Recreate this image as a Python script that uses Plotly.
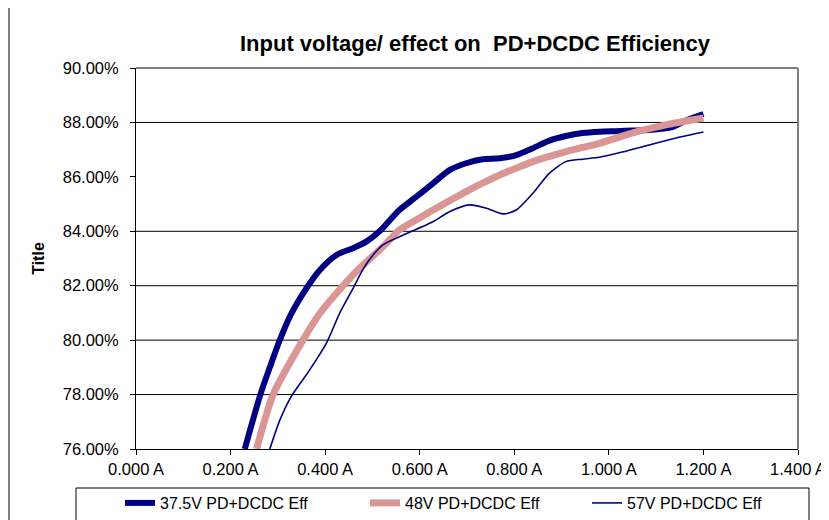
import plotly.graph_objects as go

# ---- data ----
current_375 = [0.230, 0.263, 0.283, 0.304, 0.329, 0.364, 0.389, 0.424, 0.459, 0.487,
               0.515, 0.557, 0.593, 0.628, 0.663, 0.698, 0.733, 0.769, 0.804, 0.839,
               0.874, 0.909, 0.944, 0.980, 1.016, 1.050, 1.085, 1.134, 1.163, 1.200]
eff_375 = [76.00, 78.00, 79.00, 80.00, 80.99, 82.00, 82.58, 83.13, 83.38, 83.62,
           84.00, 84.78, 85.27, 85.76, 86.25, 86.50, 86.65, 86.68, 86.80, 87.05,
           87.33, 87.50, 87.61, 87.66, 87.68, 87.70, 87.72, 87.83, 88.07, 88.31]

current_48 = [0.255, 0.290, 0.353, 0.389, 0.438, 0.469, 0.522, 0.557, 0.593, 0.628,
              0.663, 0.698, 0.733, 0.769, 0.804, 0.839, 0.874, 0.909, 0.944, 0.980,
              1.049, 1.121, 1.200]
eff_48 = [76.00, 78.00, 80.00, 80.99, 82.00, 82.58, 83.43, 84.05, 84.42, 84.78,
          85.12, 85.46, 85.77, 86.07, 86.32, 86.56, 86.75, 86.93, 87.08, 87.23,
          87.61, 87.91, 88.16]

current_57 = [0.283, 0.304, 0.329, 0.367, 0.403, 0.431, 0.459, 0.480, 0.500, 0.522,
              0.557, 0.628, 0.663, 0.705, 0.741, 0.776, 0.804, 0.839, 0.874, 0.909,
              0.944, 0.980, 1.028, 1.085, 1.142, 1.200]
eff_57 = [76.00, 77.05, 77.95, 78.90, 79.90, 81.00, 81.90, 82.60, 83.10, 83.50,
          83.80, 84.35, 84.72, 84.97, 84.85, 84.64, 84.78, 85.39, 86.13, 86.56,
          86.65, 86.72, 86.91, 87.17, 87.43, 87.65]

series_names = ["37.5V PD+DCDC Eff", "48V PD+DCDC Eff", "57V PD+DCDC Eff"]
x_ticks = [0.0, 0.2, 0.4, 0.6, 0.8, 1.0, 1.2, 1.4]
y_ticks = [76, 78, 80, 82, 84, 86, 88, 90]
grid_values = [78, 80, 82, 84, 88]
x_tick_text = [f"{v:.3f} A" for v in x_ticks]
y_tick_text = [f"{v:.2f}%" for v in y_ticks]

NAVY = "#000080"
PINK = "#DA9694"
FONT = "Liberation Sans, Arial, sans-serif"

# page geometry (the page body adds an 8px offset)
OFF = 8
W, H = 829 - OFF, 520 - OFF
PL, PR, PT, PB = 136, 798, 68, 449          # plot area in page pixels
L, T = PL - OFF, PT - OFF
R, B = W - (PR - OFF), H - (PB - OFF)
pw, ph = W - L - R, H - T - B


def px(xp):
    return (xp - OFF - L) / pw


def py(yp):
    return (H - B - (yp - OFF)) / ph


fig = go.Figure()
legend_ids = ["legend", "legend2", "legend3"]
fig.add_trace(go.Scatter(x=current_375, y=eff_375, mode="lines", name=series_names[0],
                         legend=legend_ids[0],
                         line=dict(color=NAVY, width=6, shape="spline", smoothing=0.7)))
fig.add_trace(go.Scatter(x=current_48, y=eff_48, mode="lines", name=series_names[1],
                         legend=legend_ids[1],
                         line=dict(color=PINK, width=7, shape="spline", smoothing=0.7)))
fig.add_trace(go.Scatter(x=current_57, y=eff_57, mode="lines", name=series_names[2],
                         legend=legend_ids[2],
                         line=dict(color=NAVY, width=1.6, shape="spline", smoothing=0.7)))

shapes = []
for g in grid_values:
    shapes.append(dict(type="line", xref="paper", yref="y", x0=0, x1=1, y0=g, y1=g,
                       line=dict(color="black", width=1), layer="below"))
# gray top and right border of plot area
shapes.append(dict(type="line", xref="paper", yref="paper", x0=0, x1=1, y0=1, y1=1,
                   line=dict(color="#808080", width=2)))
shapes.append(dict(type="line", xref="paper", yref="paper", x0=1, x1=1, y0=0, y1=1,
                   line=dict(color="#808080", width=2)))
# outer chart border
shapes.append(dict(type="rect", xref="paper", yref="paper", x0=px(9), x1=px(845),
                   y0=py(545), y1=py(6), line=dict(color="black", width=1)))
# legend box
shapes.append(dict(type="rect", xref="paper", yref="paper", x0=px(76), x1=px(809),
                   y0=py(545), y1=py(488), line=dict(color="black", width=1)))

legend_origins = [120, 365, 587]
legend_common = dict(orientation="h", xanchor="left", yanchor="top",
                     bgcolor="rgba(0,0,0,0)", borderwidth=0,
                     font=dict(size=16, family=FONT, color="black"))

fig.update_layout(
    width=W, height=H,
    margin=dict(l=L, r=R, t=T, b=B, autoexpand=False),
    paper_bgcolor="white", plot_bgcolor="white",
    font=dict(family=FONT, size=16, color="black"),
    title=dict(text="<b>Input voltage/ effect on\u00a0 PD+DCDC Efficiency</b>",
               x=px(475), xanchor="center", xref="paper",
               y=1 - (43 - OFF) / H, yanchor="middle", yref="container",
               font=dict(family=FONT, size=22, color="black")),
    xaxis=dict(range=[0, 1.4], tickvals=x_ticks, ticktext=x_tick_text,
               showgrid=False, zeroline=False, showline=True, linecolor="black",
               linewidth=1, ticks="outside", ticklen=5, tickcolor="black",
               tickfont=dict(size=16.5)),
    yaxis=dict(range=[76, 90], tickvals=y_ticks, ticktext=y_tick_text,
               showgrid=False, zeroline=False, showline=True, linecolor="black",
               linewidth=1, ticks="outside", ticklen=5, tickcolor="black",
               tickfont=dict(size=16.5), ticklabelstandoff=8,
               title=dict(text="<b>Title</b>", font=dict(size=16), standoff=14)),
    showlegend=True,
    legend=dict(x=px(legend_origins[0]), y=py(486), **legend_common),
    legend2=dict(x=px(legend_origins[1]), y=py(486), **legend_common),
    legend3=dict(x=px(legend_origins[2]), y=py(486), **legend_common),
    shapes=shapes,
)

fig.write_html("out.html")
